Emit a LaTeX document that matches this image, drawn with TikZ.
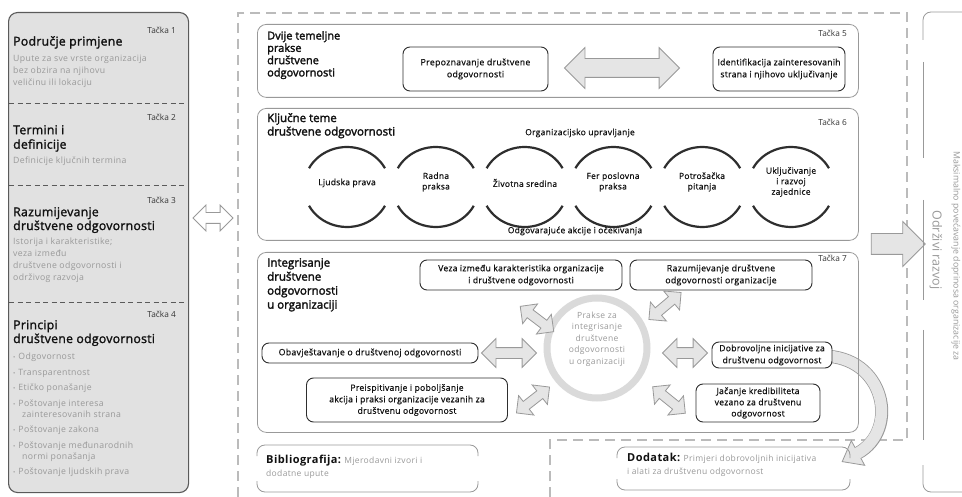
\documentclass[tikz,border=0pt]{standalone}
\usepackage{fontspec}
\setmainfont{Open Sans}
\newfontfamily\gfont[LetterSpace=4]{Open Sans}
\newfontfamily\nfont[LetterSpace=3,FakeBold=0.6]{Open Sans}
\newfontfamily\tfont[LetterSpace=2,FakeBold=1.6]{Open Sans}
\newfontfamily\tcfont[FakeBold=2.2]{Open Sans}
\usetikzlibrary{shapes.arrows,calc}
\pgfdeclarelayer{bg}
\pgfsetlayers{bg,main}
\definecolor{panelfill}{HTML}{E1E1E1}
\definecolor{panelline}{HTML}{5A5A5A}
\definecolor{graytxt}{HTML}{999999}
\definecolor{boxline}{HTML}{999999}
\definecolor{dashc}{HTML}{BBBBBB}
\definecolor{arrfill}{HTML}{E5E5E5}
\definecolor{arrline}{HTML}{999999}
\definecolor{ringc}{HTML}{DADADA}
\definecolor{arcc}{HTML}{2E2E2E}
\definecolor{darktxt}{HTML}{111111}
\begin{document}
\begin{tikzpicture}[x=1pt,y=-1pt,
  tacka/.style={anchor=east, inner sep=0pt, text=darktxt!85, font=\fontsize{8.3}{9}\selectfont},
  ttlL/.style={anchor=north west, align=left, inner sep=0pt, text=darktxt, font=\tfont\fontsize{12.3}{14.5}\selectfont},
  ttlC/.style={anchor=north west, align=left, inner sep=0pt, text=darktxt, font=\tcfont\fontsize{11.5}{13.5}\selectfont},
  gtxt/.style={anchor=north west, align=left, inner sep=0pt, text=graytxt, font=\gfont\fontsize{8.7}{11.8}\selectfont},
  bigbox/.style={draw=boxline, line width=0.8pt, rounded corners=9pt, anchor=north west, inner sep=0pt},
  nbox/.style={draw=arcc, line width=0.9pt, rounded corners=7pt, fill=white, align=center, inner sep=0pt, text=darktxt, font=\nfont\fontsize{8.8}{12}\selectfont},
  dbl/.style={double arrow, draw=arrline, fill=arrfill, line width=0.8pt, inner xsep=0pt, double arrow head indent=0pt},
  arcst/.style={draw=arcc, line width=2.2pt},
  ctxt/.style={align=center, inner sep=0pt, text=darktxt, font=\nfont\fontsize{8.5}{10.5}\selectfont},
  sepdash/.style={draw=panelline, line width=0.9pt, dash pattern=on 5pt off 3.5pt},
  dashreg/.style={draw=dashc, line width=2pt, dash pattern=on 10pt off 6pt},
  bracket/.style={draw=boxline, line width=0.8pt, rounded corners=8pt},
  rline/.style={draw=boxline, line width=0.8pt}
]
\useasboundingbox (0,0) rectangle (962,497);
\begin{pgfonlayer}{bg}
\fill[white] (0,0) rectangle (962,497);
\draw[dashreg] (550,497) -- (550,440) -- (907,440) -- (907,13) -- (238,13) -- (238,497);
\end{pgfonlayer}

% ---------- left panel ----------
\node[draw=panelline, fill=panelfill, line width=1.1pt, rounded corners=9pt,
      minimum width=180pt, minimum height=480pt, anchor=north west, inner sep=0pt] (left) at (8,12) {};
\draw[sepdash] (9,103) -- (187,103);
\draw[sepdash] (9,185) -- (187,185);
\draw[sepdash] (9,302) -- (187,302);

\node[tacka] (tk1) at (176,30) {Tačka 1};
\node[ttlL] (s1t) at (13,36) {Područje primjene};
\node[gtxt] (s1d) at (13,55) {Upute za sve vrste organizacija\\bez obzira na njihovu\\veličinu ili lokaciju};

\node[tacka] (tk2) at (176,117) {Tačka 2};
\node[ttlL] (s2t) at (13,125) {Termini i\\definicije};
\node[gtxt] (s2d) at (13,157) {Definicije ključnih termina};

\node[tacka] (tk3) at (176,200) {Tačka 3};
\node[ttlL, font=\tfont\fontsize{12.3}{13.8}\selectfont] (s3t) at (13,207) {Razumijevanje\\društvene odgovornosti};
\node[gtxt] (s3d) at (13,238) {Istorija i karakteristike;\\veza između\\društvene odgovornosti i\\održivog razvoja};

\node[tacka] (tk4) at (176,314) {Tačka 4};
\node[ttlL, font=\tfont\fontsize{12.3}{13.8}\selectfont] (s4t) at (13,320) {Principi\\društvene odgovornosti};
\node[gtxt, font=\gfont\fontsize{8.7}{11}\selectfont] (s4d) at (13,353)
 {{\fontsize{6}{6}\selectfont•}\hspace{3pt}Odgovornost\\[4.5pt]
  {\fontsize{6}{6}\selectfont•}\hspace{3pt}Transparentnost\\[4.5pt]
  {\fontsize{6}{6}\selectfont•}\hspace{3pt}Etičko ponašanje\\[4.5pt]
  {\fontsize{6}{6}\selectfont•}\hspace{3pt}Poštovanje interesa\\
  \hspace*{9pt}zainteresovanih strana\\[4.5pt]
  {\fontsize{6}{6}\selectfont•}\hspace{3pt}Poštovanje zakona\\[4.5pt]
  {\fontsize{6}{6}\selectfont•}\hspace{3pt}Poštovanje međunarodnih\\
  \hspace*{9pt}normi ponašanja\\[4.5pt]
  {\fontsize{6}{6}\selectfont•}\hspace{3pt}Poštovanje ljudskih prava};

% ---------- box 5 ----------
\node[bigbox, minimum width=601pt, minimum height=73pt] (b5) at (257,24) {};
\node[tacka] (tk5) at (847,33) {Tačka 5};
\node[ttlC, font=\tcfont\fontsize{11}{12.3}\selectfont] (b5t) at (267,31) {Dvije temeljne\\prakse\\društvene\\odgovornosti};
\node[nbox, minimum width=145pt, minimum height=44pt] (prep) at (475.5,69) {Prepoznavanje društvene\\odgovornosti};
\node[nbox, minimum width=132pt, minimum height=44pt, font=\nfont\fontsize{8.6}{12}\selectfont] (iden) at (779,69) {Identifikacija zainteresovanih\\strana i njihovo uključivanje};
\node[dbl, minimum height=115pt, minimum width=40pt, inner ysep=9pt, double arrow head extend=11pt] (a5) at (622,68) {};

% ---------- box 6 ----------
\node[bigbox, minimum width=601pt, minimum height=132pt] (b6) at (257,108) {};
\node[tacka] (tk6) at (847,122) {Tačka 6};
\node[ttlC] (b6t) at (267,113) {Ključne teme\\društvene odgovornosti};
\node[ctxt] (org) at (580,133) {Organizacijsko upravljanje};
\node[ctxt] (odg) at (575,231) {Odgovarajuće akcije i očekivanja};
\foreach \cx in {347,435.8,524.6,613.4,702.2,791}{
  \draw[arcst] (\cx,187) ++(28:43pt and 40pt) arc[start angle=28,end angle=152,x radius=43pt,y radius=40pt];
  \draw[arcst] (\cx,187) ++(208:43pt and 40pt) arc[start angle=208,end angle=332,x radius=43pt,y radius=40pt];
}
\node[ctxt] (c1) at (347,183) {Ljudska prava};
\node[ctxt] (c2) at (436,182) {Radna\\praksa};
\node[ctxt] (c3) at (525,183) {Životna sredina};
\node[ctxt] (c4) at (613,182) {Fer poslovna\\praksa};
\node[ctxt] (c5) at (702,182) {Potrošačka\\pitanja};
\node[ctxt] (c6) at (791,182) {Uključivanje\\i razvoj\\zajednice};

% ---------- box 7 ----------
\node[bigbox, minimum width=601pt, minimum height=180pt] (b7) at (257,252) {};
\node[tacka] (tk7) at (847,258) {Tačka 7};
\node[ttlC, font=\tcfont\fontsize{11.5}{14}\selectfont] (b7t) at (267,258) {Integrisanje\\društvene\\odgovornosti\\u organizaciji};
\node[circle, draw=ringc, line width=7pt, minimum size=100pt, inner sep=0pt] (ring) at (597,348) {};
\node[ctxt, text=graytxt, font=\gfont\fontsize{8.5}{11.5}\selectfont] (ringt) at (597,339) {Prakse za\\integrisanje\\društvene\\odgovornosti\\u organizaciji};
\node[nbox, minimum width=202pt, minimum height=30pt, font=\nfont\fontsize{8.6}{12}\selectfont] (veza) at (521,275) {Veza između karakteristika organizacije\\i društvene odgovornosti};
\node[nbox, minimum width=182pt, minimum height=30pt] (razu) at (721,275) {Razumijevanje društvene\\odgovornosti organizacije};
\node[nbox, minimum width=216pt, minimum height=20pt] (obav) at (370,353) {Obavještavanje o društvenoj odgovornosti};
\node[nbox, minimum width=120pt, minimum height=26pt, font=\nfont\fontsize{8.6}{12}\selectfont] (dobr) at (772,355) {Dobrovoljne inicijative za\\društvenu odgovornost};
\node[nbox, minimum width=201pt, minimum height=44pt, font=\nfont\fontsize{8.6}{11.5}\selectfont] (prei) at (407,400) {Preispitivanje i poboljšanje\\akcija i praksi organizacije vezanih za\\društvenu odgovornost};
\node[nbox, minimum width=124pt, minimum height=38pt, font=\nfont\fontsize{8.6}{11.2}\selectfont] (jaca) at (758,403) {Jačanje kredibiliteta\\vezano za društvenu\\odgovornost};

\node[dbl, rotate=-37, minimum height=42pt, minimum width=24pt, inner ysep=4.5pt, double arrow head extend=7.5pt] (ar1) at (537,319) {};
\node[dbl, rotate=40, minimum height=42pt, minimum width=24pt, inner ysep=4.5pt, double arrow head extend=7.5pt] (ar2) at (665,306) {};
\node[dbl, minimum height=55pt, minimum width=28pt, inner ysep=5pt, double arrow head extend=9pt] (ar3) at (509,353) {};
\node[dbl, minimum height=45pt, minimum width=28pt, inner ysep=5pt, double arrow head extend=9pt] (ar4) at (685,353) {};
\node[dbl, rotate=38, minimum height=42pt, minimum width=24pt, inner ysep=4.5pt, double arrow head extend=7.5pt] (ar5) at (533,400) {};
\node[dbl, rotate=-39, minimum height=42pt, minimum width=24pt, inner ysep=4.5pt, double arrow head extend=7.5pt] (ar6) at (669,400) {};

% left connector arrow
\node[dbl, fill=white, minimum height=40pt, minimum width=25pt, inner ysep=5pt, double arrow head extend=7.5pt] (arL) at (213,218) {};

% curved arrow to Dodatak
\begin{pgfonlayer}{bg}
\draw[line width=13pt, draw=arrline] ($(dobr.east)+(-10,1)$) .. controls (885,356) and (900,430) .. (858,453);
\filldraw[fill=arrfill, draw=arrline, line width=0.8pt] (851.3,440.7) -- (842.2,461.6) -- (864.7,465.3) -- cycle;
\draw[line width=11.4pt, draw=arrfill, shorten >=-1.2pt] ($(dobr.east)+(-10,1)$) .. controls (885,356) and (900,430) .. (858,453);
\end{pgfonlayer}

% ---------- bottom boxes ----------
\draw[bracket] (257,456) -- (257,445) -- (478,445) -- (478,456);
\draw[bracket] (257,481) -- (257,492) -- (478,492) -- (478,481);
\node[anchor=north west, align=left, inner sep=0pt, font=\gfont\fontsize{8.5}{13}\selectfont, text=graytxt] (bib) at (266,455)
 {{\bfseries\fontsize{11}{13}\selectfont\color{darktxt}Bibliografija:} Mjerodavni izvori i\\dodatne upute};

\draw[bracket] (617,458) -- (617,447) -- (850,447) -- (850,458);
\draw[bracket] (617,479) -- (617,490) -- (850,490) -- (850,479);
\node[anchor=north west, align=left, inner sep=0pt, font=\gfont\fontsize{8.5}{13}\selectfont, text=graytxt] (dod) at (627,453)
 {{\bfseries\fontsize{11}{13}\selectfont\color{darktxt}Dodatak:} Primjeri dobrovoljnih inicijativa\\i alati za društvenu odgovornost};

% ---------- right panel ----------
\node[single arrow, draw=arrline, fill=arrfill, line width=0.8pt, minimum height=54pt, minimum width=44pt,
      inner ysep=10pt, inner xsep=0pt, single arrow head extend=12pt] (bigarr) at (893,244) {};
\draw[rline, rounded corners=8pt] (965,12) -- (923,12) -- (923,40);
\draw[rline, rounded corners=8pt] (923,465) -- (923,492) -- (965,492);
\draw[rline] (923,62) -- (923,158);
\draw[rline] (923,200) -- (923,300);
\draw[rline] (923,330) -- (923,440);
\node[rotate=-90, inner sep=0pt, text=graytxt, font=\fontsize{12.5}{14}\selectfont] (odr) at (936,250) {Održivi razvoj};
\node[rotate=-90, inner sep=0pt, text=graytxt, font=\fontsize{8.8}{10}\selectfont] (maks) at (956,256) {Maksimalno povećavanje doprinosa organizacije za};
\end{tikzpicture}
\end{document}
